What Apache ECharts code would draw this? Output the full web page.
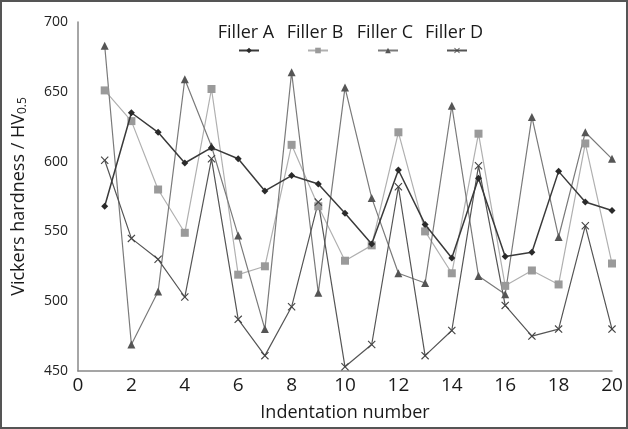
<!DOCTYPE html>
<html>
<head>
<meta charset="utf-8">
<script src="https://cdn.jsdelivr.net/npm/echarts@6/dist/echarts.min.js"></script>
<style>
html,body{margin:0;padding:0;background:#fff;}
#c{width:628px;height:429px;box-sizing:border-box;border:2px solid #555;}
</style>
</head>
<body>
<div id="c"></div>
<script>
const indentation = [1,2,3,4,5,6,7,8,9,10,11,12,13,14,15,16,17,18,19,20];
const fillerA = [568,635,621,599,610,602,579,590,584,563,541,594,555,531,588,532,535,593,571,565];
const fillerB = [651,629,580,549,652,519,525,612,568,529,540,621,550,520,620,511,522,512,613,527];
const fillerC = [683,469,507,659,611,547,480,664,506,653,574,520,513,640,518,505,632,546,621,602];
const fillerD = [601,545,530,503,602,487,461,496,571,453,469,582,461,479,597,497,475,480,554,480];
const seriesNames = ['Filler A','Filler B','Filler C','Filler D'];
const xTicks = {min:0,max:20,interval:2};
const yTicks = {min:450,max:700,interval:50};

const chart = echarts.init(document.getElementById('c'));
const xMark = 'path://M0,1L1,0L5,4L9,0L10,1L6,5L10,9L9,10L5,6L1,10L0,9L4,5Z';
const styles = [
  {line:'#3a3a3a', mark:'#2a2a2a', symbol:'diamond', size:7, width:1.5},
  {line:'#b0b0b0', mark:'#9a9a9a', symbol:'rect', size:8, width:1.2},
  {line:'#7a7a7a', mark:'#555555', symbol:'triangle', size:8, width:1.2},
  {line:'#555555', mark:'#444444', symbol:xMark, size:8, width:1.2}
];
const vals = [fillerA, fillerB, fillerC, fillerD];
const series = seriesNames.map((n,i)=>({
  name:n, type:'line',
  data: indentation.map((x,j)=>[x, vals[i][j]]),
  symbol: styles[i].symbol, symbolSize: styles[i].size,
  lineStyle:{color:styles[i].line, width:styles[i].width},
  itemStyle:{color:styles[i].mark},
  z: i===0 ? 5 : 3
}));
const legendCenters = [246, 315, 385, 454];
const legends = seriesNames.map((n,i)=>({
  data:[n], left: legendCenters[i]-10, top: 45, padding:0,
  itemWidth:20, itemHeight:7, formatter: function(){return '';},
  textStyle:{fontSize:1}, selectedMode:false
}));
const graphics = seriesNames.map((n,i)=>({
  type:'text', x: legendCenters[i] - 2, y: 31,
  style:{text:n, x:0, y:0, align:'center', verticalAlign:'middle',
    font:'18px "Open Sans"', fill:'#1a1a1a'}
}));

chart.setOption({
  animation:false,
  backgroundColor:'#fff',
  grid:{left:75, right:14, top:20, bottom:48, containLabel:false},
  legend: legends,
  graphic: graphics,
  xAxis:{
    type:'value', min:xTicks.min, max:xTicks.max, interval:xTicks.interval,
    axisLine:{show:true, lineStyle:{color:'#888', width:1.5}},
    axisTick:{show:false}, splitLine:{show:false},
    axisLabel:{fontSize:19, color:'#1a1a1a', fontFamily:'Open Sans', margin:5},
    name:'Indentation number', nameLocation:'middle', nameGap:33,
    nameTextStyle:{fontSize:18, color:'#1a1a1a', fontFamily:'Open Sans'}
  },
  yAxis:{
    type:'value', min:yTicks.min, max:yTicks.max, interval:yTicks.interval,
    axisLine:{show:true, lineStyle:{color:'#888', width:1.5}},
    axisTick:{show:false}, splitLine:{show:false},
    axisLabel:{fontSize:14, color:'#222', fontFamily:'Open Sans', margin:10},
    name:'Vickers hardness / HV{sub|0.5}', nameLocation:'middle', nameGap:49,
    nameTextStyle:{fontSize:18, color:'#1a1a1a', fontFamily:'Open Sans',
      rich:{sub:{fontSize:12, verticalAlign:'bottom', padding:[8,0,0,0], fontFamily:'Open Sans', color:'#1a1a1a'}}}
  },
  series: series
});
</script>
</body>
</html>
